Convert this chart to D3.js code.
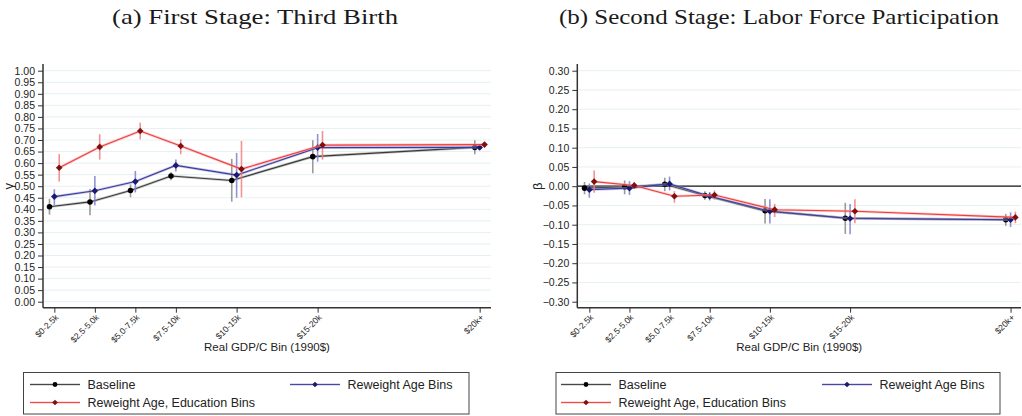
<!DOCTYPE html>
<html>
<head>
<meta charset="utf-8">
<script src="https://cdn.jsdelivr.net/npm/d3@7"></script>
<style>
  html, body { margin: 0; padding: 0; background: #fff; }
  svg { display: block; }
  text { font-family: "Liberation Sans", Arial, sans-serif; fill: #222; }
  .title { font-family: "Liberation Serif", "DejaVu Serif", serif; fill: #1a1a1a; }
</style>
</head>
<body>
<svg id="chart" width="1022" height="416"></svg>
<script>
// Income bins and where each bin sits on the GDP axis (thousands of 1990$)
const categories = ["$0-2.5k", "$2.5-5.0k", "$5.0-7.5k", "$7.5-10k", "$10-15k", "$15-20k", "$20k+"];
const binMid = [1.25, 3.75, 6.25, 8.75, 12.5, 17.5, 27.5];

// Panel (a): first stage, third birth (gamma)
const gammaBase   = [0.411, 0.432, 0.481, 0.544, 0.525, 0.628, 0.668];
const gammaBaseLo = [0.377, 0.374, 0.452, 0.526, 0.433, 0.556, 0.638];
const gammaBaseHi = [0.445, 0.488, 0.508, 0.560, 0.618, 0.699, 0.699];
const gammaAge    = [0.455, 0.480, 0.520, 0.590, 0.548, 0.667, 0.668];
const gammaAgeLo  = [0.419, 0.416, 0.473, 0.564, 0.450, 0.606, 0.658];
const gammaAgeHi  = [0.487, 0.544, 0.566, 0.616, 0.644, 0.726, 0.678];
const gammaEdu    = [0.580, 0.670, 0.739, 0.674, 0.574, 0.678, 0.680];
const gammaEduLo  = [0.520, 0.615, 0.703, 0.638, 0.452, 0.615, 0.670];
const gammaEduHi  = [0.639, 0.725, 0.775, 0.703, 0.696, 0.739, 0.690];

// Panel (b): second stage, labor force participation (beta)
const betaBase   = [-0.005, -0.002, 0.005, -0.024, -0.064, -0.083, -0.087];
const betaBaseLo = [-0.021, -0.021, -0.013, -0.035, -0.097, -0.124, -0.103];
const betaBaseHi = [0.011, 0.015, 0.022, -0.013, -0.033, -0.043, -0.072];
const betaAge    = [-0.009, -0.005, 0.006, -0.026, -0.065, -0.084, -0.087];
const betaAgeLo  = [-0.030, -0.023, -0.011, -0.037, -0.097, -0.125, -0.106];
const betaAgeHi  = [0.007, 0.013, 0.025, -0.015, -0.034, -0.046, -0.068];
const betaEdu    = [0.012, 0.002, -0.026, -0.023, -0.061, -0.065, -0.081];
const betaEduLo  = [-0.017, -0.007, -0.043, -0.035, -0.080, -0.096, -0.096];
const betaEduHi  = [0.041, 0.010, -0.013, -0.011, -0.046, -0.034, -0.066];

const gammaTicks = d3.range(0, 1.0001, 0.05);
const betaTicks = d3.range(-0.30, 0.3001, 0.05);

const seriesNames = ["Baseline", "Reweight Age Bins", "Reweight Age, Education Bins"];

// Visual style for each series: connecting line, interval, marker
const styles = [
  { line: "#3a3a3a", band: "#9a9a9a", ci: "#8a8a8a", marker: "#000000", shape: d3.symbolCircle, size: 24, rot: 0, shift: -0.3 },
  { line: "#3c3c9c", band: "#9a9ad6", ci: "#7f7fcf", marker: "#1b1b6e", shape: d3.symbolSquare, size: 22, rot: 45, shift: 0 },
  { line: "#f03c3c", band: "#f7a0a0", ci: "#f08080", marker: "#7e1010", shape: d3.symbolSquare, size: 22, rot: 45, shift: 0.3 }
];

const svg = d3.select("#chart");

function drawPanel(cfg) {
  const g = svg.append("g");
  const x = d3.scaleLinear().domain(cfg.xDomain).range([cfg.left, cfg.right]);
  const y = d3.scaleLinear().domain(cfg.yDomain).range([cfg.yBottom, cfg.yTop]);

  // horizontal grid
  g.append("g").selectAll("line").data(cfg.ticks.filter(t => Math.abs(t) > 1e-9 || !cfg.zeroLine))
    .join("line")
    .attr("x1", cfg.left + 1).attr("x2", cfg.right)
    .attr("y1", d => y(d)).attr("y2", d => y(d))
    .attr("stroke", "#e6f0f2").attr("stroke-width", 1);

  if (cfg.zeroLine) {
    g.append("line")
      .attr("x1", cfg.left).attr("x2", cfg.right)
      .attr("y1", y(0)).attr("y2", y(0))
      .attr("stroke", "#111").attr("stroke-width", 1.2);
  }

  // y axis
  const yAxis = d3.axisLeft(y).tickValues(cfg.ticks).tickFormat(d3.format(".2f")).tickSize(5).tickPadding(3);
  const ya = g.append("g").attr("transform", `translate(${cfg.left},0)`).call(yAxis);
  ya.select(".domain").remove();
  ya.selectAll(".tick line").attr("stroke", "#333");
  ya.selectAll(".tick text").attr("font-size", 10.5).attr("fill", "#222")
    .attr("font-family", "Liberation Sans, Arial, sans-serif");
  g.append("line").attr("x1", cfg.left).attr("x2", cfg.left)
    .attr("y1", cfg.axisTop).attr("y2", cfg.axisBottom)
    .attr("stroke", "#333").attr("stroke-width", 1.5);

  // x axis with slanted bin labels
  const xAxis = d3.axisBottom(x).tickValues(binMid).tickFormat((d, i) => categories[i]).tickSize(5).tickPadding(2);
  const xa = g.append("g").attr("transform", `translate(0,${cfg.axisBottom})`).call(xAxis);
  xa.select(".domain").remove();
  xa.selectAll(".tick line").attr("stroke", "#333");
  xa.selectAll(".tick text")
    .attr("font-size", 8.6).attr("fill", "#222")
    .attr("font-family", "Liberation Sans, Arial, sans-serif")
    .attr("text-anchor", "end")
    .attr("x", 0).attr("y", 0)
    .attr("dx", 0).attr("dy", "0.35em")
    .attr("transform", "translate(2,8) rotate(-45)");
  g.append("line").attr("x1", cfg.left).attr("x2", cfg.right)
    .attr("y1", cfg.axisBottom).attr("y2", cfg.axisBottom)
    .attr("stroke", "#333").attr("stroke-width", 1.5);

  // axis titles
  g.append("text").attr("x", (cfg.left + cfg.right) / 2).attr("y", 351)
    .attr("text-anchor", "middle").attr("font-size", 11.5).text("Real GDP/C Bin (1990$)");
  g.append("text")
    .attr("transform", `translate(${cfg.yLabelX},${y(cfg.yLabelAt)}) rotate(-90)`)
    .attr("text-anchor", "middle").attr("font-size", 13)
    .attr("font-family", "DejaVu Serif, serif").text(cfg.yLabel);

  // panel title
  g.append("text").attr("class", "title")
    .attr("x", cfg.titleX).attr("y", 24)
    .attr("text-anchor", "middle").attr("font-size", 21)
    .attr("textLength", cfg.titleWidth).attr("lengthAdjust", "spacingAndGlyphs")
    .text(cfg.title);

  // series: intervals, connecting lines, markers
  cfg.series.forEach((s, k) => {
    const st = styles[k];
    const pts = binMid.map((m, i) => ({ xv: m + st.shift, v: s.est[i], lo: s.lo[i], hi: s.hi[i] }));
    const sg = g.append("g");
    sg.selectAll("line.ci").data(pts).join("line").attr("class", "ci")
      .attr("x1", d => x(d.xv)).attr("x2", d => x(d.xv))
      .attr("y1", d => y(d.lo)).attr("y2", d => y(d.hi))
      .attr("stroke", st.ci).attr("stroke-width", 1.6).attr("opacity", 0.85);
    const line = d3.line().x(d => x(d.xv)).y(d => y(d.v));
    sg.append("path").datum(pts).attr("d", line)
      .attr("fill", "none").attr("stroke", st.band).attr("stroke-width", 2.6).attr("opacity", 0.55);
    sg.append("path").datum(pts).attr("d", line)
      .attr("fill", "none").attr("stroke", st.line).attr("stroke-width", 1.1);
    sg.selectAll("path.mk").data(pts).join("path").attr("class", "mk")
      .attr("d", d3.symbol().type(st.shape).size(st.size))
      .attr("transform", d => `translate(${x(d.xv)},${y(d.v)}) rotate(${st.rot})`)
      .attr("fill", st.marker);
  });

  // legend
  const lg = g.append("g");
  lg.append("rect").attr("x", cfg.legend.x0).attr("y", 372.5)
    .attr("width", cfg.legend.x1 - cfg.legend.x0).attr("height", 41.5)
    .attr("fill", "#fff").attr("stroke", "#444").attr("stroke-width", 1);
  const slots = [
    { col: 0, yy: 384.5 }, { col: 1, yy: 384.5 }, { col: 0, yy: 402.5 }
  ];
  slots.forEach((sl, k) => {
    const st = styles[k];
    const kx = sl.col === 0 ? cfg.legend.key0 : cfg.legend.key1;
    lg.append("line").attr("x1", kx).attr("x2", kx + 50)
      .attr("y1", sl.yy).attr("y2", sl.yy)
      .attr("stroke", st.band).attr("stroke-width", 2).attr("opacity", 0.7);
    lg.append("line").attr("x1", kx).attr("x2", kx + 50)
      .attr("y1", sl.yy).attr("y2", sl.yy)
      .attr("stroke", st.line).attr("stroke-width", 0.9);
    lg.append("path").attr("d", d3.symbol().type(st.shape).size(st.size - 6))
      .attr("transform", `translate(${kx + 25},${sl.yy}) rotate(${st.rot})`).attr("fill", st.marker);
    lg.append("text").attr("x", kx + 57.5).attr("y", sl.yy).attr("dy", "0.36em")
      .attr("font-size", 12.5).text(seriesNames[k]);
  });
}

drawPanel({
  left: 43, right: 491, xDomain: [0.55, 28.2],
  yDomain: [0, 1], yBottom: 301.7, yTop: 70.7,
  axisTop: 64, axisBottom: 307.7,
  ticks: gammaTicks, zeroLine: false,
  yLabel: "γ", yLabelX: 13, yLabelAt: 0.5,
  title: "(a) First Stage: Third Birth", titleX: 255, titleWidth: 286,
  legend: { x0: 23.5, x1: 469, key0: 30, key1: 290 },
  series: [
    { est: gammaBase, lo: gammaBaseLo, hi: gammaBaseHi },
    { est: gammaAge, lo: gammaAgeLo, hi: gammaAgeHi },
    { est: gammaEdu, lo: gammaEduLo, hi: gammaEduHi }
  ]
});

drawPanel({
  left: 577.3, right: 1021, xDomain: [0.5, 28.15],
  yDomain: [-0.3, 0.3], yBottom: 301.7, yTop: 70.7,
  axisTop: 64, axisBottom: 307.7,
  ticks: betaTicks, zeroLine: true,
  yLabel: "β", yLabelX: 542, yLabelAt: 0,
  title: "(b) Second Stage: Labor Force Participation", titleX: 779, titleWidth: 440,
  legend: { x0: 556, x1: 1000, key0: 561, key1: 822 },
  series: [
    { est: betaBase, lo: betaBaseLo, hi: betaBaseHi },
    { est: betaAge, lo: betaAgeLo, hi: betaAgeHi },
    { est: betaEdu, lo: betaEduLo, hi: betaEduHi }
  ]
});
</script>
</body>
</html>
